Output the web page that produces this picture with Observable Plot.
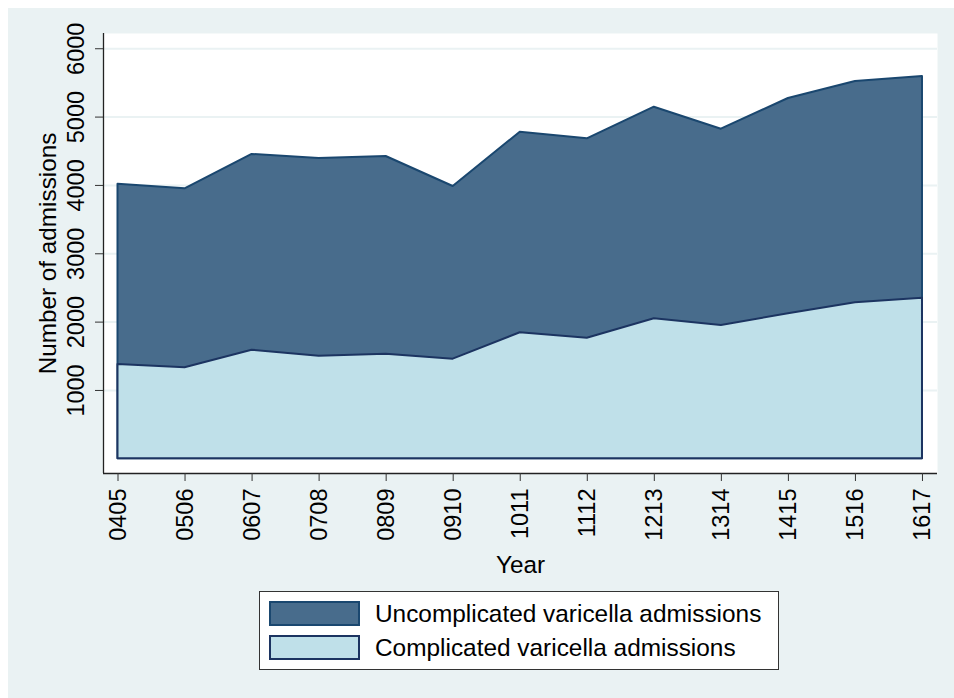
<!DOCTYPE html>
<html><head><meta charset="utf-8">
<script src="https://cdn.jsdelivr.net/npm/d3@7"></script>
<script src="https://cdn.jsdelivr.net/npm/@observablehq/plot@0.6"></script>
<style>
body{margin:0;background:#fff;font-family:"Liberation Sans",Arial,sans-serif;}
#bg{position:absolute;left:8px;top:8px;width:946px;height:690px;background:#eaf2f3;}
#chart{position:absolute;left:0;top:0;}
#legend{position:absolute;left:259px;top:591px;width:520px;height:79px;border:1px solid #333;background:#fff;box-sizing:border-box;}
.sw{position:absolute;left:9px;width:91px;height:25px;box-sizing:border-box;border:2px solid;}
.lt{position:absolute;left:115px;font-size:24.4px;line-height:25px;color:#000;white-space:nowrap;}
</style></head>
<body>
<div id="bg"></div>
<div id="chart"></div>
<div id="legend">
  <div class="sw" style="top:9px;background:#486c8c;border-color:#1a476f"></div>
  <div class="lt" style="top:9px">Uncomplicated varicella admissions</div>
  <div class="sw" style="top:43px;background:#bfe0e9;border-color:#1c3461"></div>
  <div class="lt" style="top:43px">Complicated varicella admissions</div>
</div>
<script>
const years = ["0405","0506","0607","0708","0809","0910","1011","1112","1213","1314","1415","1516","1617"];
const complicated = [1380,1331,1589,1501,1531,1458,1844,1765,2049,1951,2122,2283,2350];
const uncomplicated = [2638,2620,2864,2893,2892,2526,2935,2917,3096,2872,3150,3238,3244];
const yTicks = [1000,2000,3000,4000,5000,6000];

const xDomain = [-0.2163, 12.224];
const yDomain = [-215, 6223];

const table = years.map((year, i) => ({i, year, comp: complicated[i], total: complicated[i] + uncomplicated[i]}));

const chart = Plot.plot({
  width: 954,
  height: 590,
  marginLeft: 103,
  marginRight: 17,
  marginTop: 33,
  marginBottom: 117,
  style: {background: "transparent", fontFamily: "'Liberation Sans', Arial, sans-serif", overflow: "visible"},
  x: {type: "linear", domain: xDomain},
  y: {type: "linear", domain: yDomain},
  marks: [
    Plot.frame({fill: "white", stroke: "none"}),
    Plot.gridY(yTicks, {stroke: "#eaf2f3", strokeOpacity: 1, strokeWidth: 2}),
    Plot.areaY(table, {x: "i", y: "total", fill: "#486c8c", stroke: "#1a476f", strokeWidth: 2}),
    Plot.areaY(table, {x: "i", y: "comp", fill: "#bfe0e9", stroke: "#1c3461", strokeWidth: 2}),
    Plot.ruleY([yDomain[0]], {stroke: "#222", strokeWidth: 1.3}),
    Plot.ruleX([xDomain[0]], {stroke: "#222", strokeWidth: 1.3}),
    Plot.axisY({ticks: yTicks, tickFormat: d3.format("d"), tickRotate: -90, tickSize: 8, tickPadding: 12, fontSize: 23.5, label: null, color: "#000", stroke: "#333"}),
    Plot.axisX({ticks: d3.range(years.length), tickFormat: i => years[i], tickRotate: -90, tickSize: 8, tickPadding: 7, fontSize: 23.5, label: null, color: "#000", stroke: "#333"}),
    Plot.text(["Number of admissions"], {frameAnchor: "left", rotate: -90, dx: -65, lineAnchor: "top", textAnchor: "middle", fontSize: 24.3, fill: "#000"}),
    Plot.text(["Year"], {frameAnchor: "bottom", dy: 99, lineAnchor: "bottom", textAnchor: "middle", fontSize: 24.3, fill: "#000"})
  ]
});
document.getElementById("chart").appendChild(chart);
</script>
</body></html>
